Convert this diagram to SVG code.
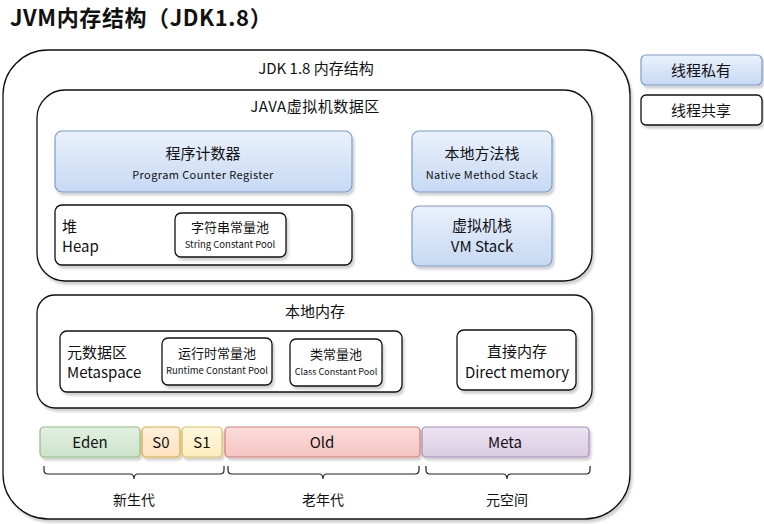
<svg xmlns="http://www.w3.org/2000/svg" width="764" height="524" viewBox="0 0 764 524">
<defs>
<linearGradient id="gBlue" x1="0" y1="0" x2="0" y2="1"><stop offset="0" stop-color="#eaf1fc"/><stop offset="1" stop-color="#c6d9f3"/></linearGradient>
<linearGradient id="gGreen" x1="0" y1="0" x2="0" y2="1"><stop offset="0" stop-color="#e3f0e2"/><stop offset="1" stop-color="#cce3ca"/></linearGradient>
<linearGradient id="gOrange" x1="0" y1="0" x2="0" y2="1"><stop offset="0" stop-color="#fff0dc"/><stop offset="1" stop-color="#ffe2bf"/></linearGradient>
<linearGradient id="gYellow" x1="0" y1="0" x2="0" y2="1"><stop offset="0" stop-color="#fff8de"/><stop offset="1" stop-color="#ffedbd"/></linearGradient>
<linearGradient id="gRed" x1="0" y1="0" x2="0" y2="1"><stop offset="0" stop-color="#fbdcdb"/><stop offset="1" stop-color="#f5c4c2"/></linearGradient>
<linearGradient id="gPurple" x1="0" y1="0" x2="0" y2="1"><stop offset="0" stop-color="#ebe3f0"/><stop offset="1" stop-color="#dacde3"/></linearGradient>
<filter id="sh" x="-10%" y="-10%" width="120%" height="130%"><feDropShadow dx="2" dy="3" stdDeviation="1.2" flood-color="#000" flood-opacity="0.18"/></filter>
</defs>
<style>
text{font-family:"Noto Sans CJK SC","Noto Sans",sans-serif;fill:#111;}
.c{text-anchor:middle;}
.box{fill:#fff;stroke:#111;stroke-width:1.3;filter:url(#sh);}
.blue{fill:url(#gBlue);stroke:#7b9ccb;stroke-width:1.2;filter:url(#sh);}
.t15{font-size:15px;}
.t14{font-size:14px;}
.t13{font-size:13px;}
.t11{font-size:11px;letter-spacing:0.4px;}
.t10{font-size:9.5px;}
.brace{fill:none;stroke:#222;stroke-width:1.2;}
</style>
<text x="10" y="26" style="font-size:22px;font-weight:bold;letter-spacing:0.6px;">JVM内存结构（JDK1.8）</text>

<g id="outer">
<rect class="box" x="3" y="50" width="627" height="469" rx="45"/>
<text class="c t15" x="316" y="74">JDK 1.8 内存结构</text>
</g>

<g id="legend-private">
<rect class="blue" x="641" y="55" width="121" height="30" rx="5"/>
<text class="c t15" x="701" y="76">线程私有</text>
</g>
<g id="legend-shared">
<rect class="box" x="641" y="95" width="121" height="30" rx="5"/>
<text class="c t15" x="701" y="116">线程共享</text>
</g>

<g id="jvm-data">
<rect class="box" x="37" y="90" width="555" height="191" rx="28"/>
<text class="c t15" x="315" y="112" style="letter-spacing:0.5px;">JAVA虚拟机数据区</text>
</g>

<g id="pc-register">
<rect class="blue" x="55" y="131" width="297" height="61" rx="7"/>
<text class="c t15" x="203" y="159">程序计数器</text>
<text class="c t11" x="203" y="179">Program Counter Register</text>
</g>

<g id="native-stack">
<rect class="blue" x="412" y="131" width="140" height="61" rx="7"/>
<text class="c t15" x="482" y="159">本地方法栈</text>
<text class="c t11" x="482" y="179">Native Method Stack</text>
</g>

<g id="heap">
<rect class="box" x="55" y="205" width="297" height="60" rx="7"/>
<text class="t15" x="62" y="232">堆</text>
<text class="t15" x="62" y="252">Heap</text>
</g>

<g id="string-pool">
<rect class="box" x="175" y="213" width="111" height="44" rx="6"/>
<text class="c t13" x="230" y="232">字符串常量池</text>
<text class="c t10" x="230" y="248">String Constant Pool</text>
</g>

<g id="vm-stack">
<rect class="blue" x="412" y="206" width="140" height="60" rx="7"/>
<text class="c t15" x="482" y="231">虚拟机栈</text>
<text class="c t15" x="482" y="252">VM Stack</text>
</g>

<g id="native-memory">
<rect class="box" x="37" y="295" width="555" height="113" rx="18"/>
<text class="c t15" x="315" y="317">本地内存</text>
</g>

<g id="metaspace">
<rect class="box" x="60" y="331" width="342" height="61" rx="7"/>
<text class="t15" x="67" y="358">元数据区</text>
<text class="t15" x="67" y="378">Metaspace</text>
</g>

<g id="runtime-pool">
<rect class="box" x="162" y="338" width="110" height="47" rx="6"/>
<text class="c t13" x="217" y="358">运行时常量池</text>
<text class="c t10" x="217" y="374">Runtime Constant Pool</text>
</g>

<g id="class-pool">
<rect class="box" x="290" y="339" width="92" height="47" rx="6"/>
<text class="c t13" x="336" y="359">类常量池</text>
<text class="c" x="336" y="375" style="font-size:9px;">Class Constant Pool</text>
</g>

<g id="direct-memory">
<rect class="box" x="457" y="330" width="119" height="60" rx="7"/>
<text class="c t15" x="517" y="357">直接内存</text>
<text class="c t15" x="517" y="378">Direct memory</text>
</g>

<g id="eden">
<rect x="40" y="427" width="100" height="30" rx="4" fill="url(#gGreen)" stroke="#8fbf7f" stroke-width="1.2" filter="url(#sh)"/>
<text class="c t15" x="90" y="448">Eden</text>
</g>
<g id="s0">
<rect x="142" y="427" width="38" height="30" rx="4" fill="url(#gOrange)" stroke="#e0a93e" stroke-width="1.2" filter="url(#sh)"/>
<text class="c t15" x="161" y="448">S0</text>
</g>
<g id="s1">
<rect x="182" y="427" width="40" height="30" rx="4" fill="url(#gYellow)" stroke="#dcc060" stroke-width="1.2" filter="url(#sh)"/>
<text class="c t15" x="202" y="448">S1</text>
</g>
<g id="old">
<rect x="225" y="427" width="195" height="30" rx="4" fill="url(#gRed)" stroke="#d47a76" stroke-width="1.2" filter="url(#sh)"/>
<text class="c t15" x="322" y="448">Old</text>
</g>
<g id="meta">
<rect x="422" y="427" width="167" height="30" rx="4" fill="url(#gPurple)" stroke="#a68ab7" stroke-width="1.2" filter="url(#sh)"/>
<text class="c t15" x="505" y="448">Meta</text>
</g>

<g id="braces">
<path class="brace" d="M44,466 v4 q0,4 4,4 H130 q4,0 4,5 q0,-5 4,-5 H220 q4,0 4,-4 v-4"/>
<path class="brace" d="M228,466 v4 q0,4 4,4 H319 q4,0 4,5 q0,-5 4,-5 H415 q4,0 4,-4 v-4"/>
<path class="brace" d="M426,466 v4 q0,4 4,4 H503 q4,0 4,5 q0,-5 4,-5 H586 q4,0 4,-4 v-4"/>
</g>
<g id="brace-labels">
<text class="c t14" x="134" y="505">新生代</text>
<text class="c t14" x="323" y="505">老年代</text>
<text class="c t14" x="507" y="505">元空间</text>
</g>
</svg>
